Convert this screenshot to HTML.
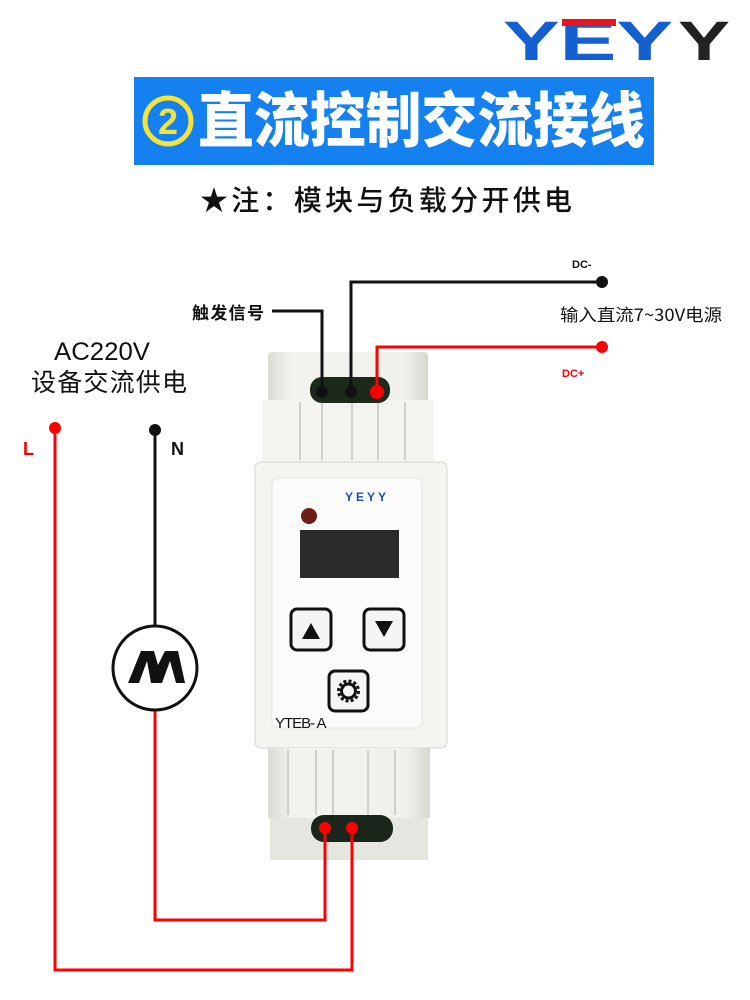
<!DOCTYPE html>
<html><head><meta charset="utf-8"><style>
html,body{margin:0;padding:0;background:#fff;}
body{width:750px;height:1000px;overflow:hidden;position:relative;font-family:"Liberation Sans","Noto Sans CJK SC",sans-serif;}
svg{position:absolute;left:0;top:0;}
</style></head><body>
<svg width="750" height="1000" viewBox="0 0 750 1000" xmlns="http://www.w3.org/2000/svg">
<defs>
<linearGradient id="body" x1="0" x2="1" y1="0" y2="0">
<stop offset="0" stop-color="#dcdcd6"/><stop offset="0.15" stop-color="#f2f2ee"/><stop offset="0.85" stop-color="#f0f0ec"/><stop offset="1" stop-color="#d8d8d2"/>
</linearGradient>
</defs>
<!-- logo -->
<g font-family="Liberation Sans, sans-serif" font-weight="bold" font-size="56">
<text x="503" y="60" fill="#1560d0" textLength="170" lengthAdjust="spacingAndGlyphs">YEY</text>
<text x="678" y="60" fill="#222" textLength="52" lengthAdjust="spacingAndGlyphs">Y</text>
</g>
<rect x="562" y="19" width="54" height="7" fill="#e8141e"/>
<!-- banner -->
<rect x="134" y="77" width="520" height="88" fill="#1580f0"/>
<circle cx="168" cy="121" r="23" fill="none" stroke="#f5e23a" stroke-width="5"/>
<text x="168" y="134" font-size="36" font-weight="bold" fill="#f5e23a" text-anchor="middle" font-family="Liberation Sans, sans-serif">2</text>
<text x="198" y="142" font-size="60" font-weight="900" fill="#fff" font-family="Noto Sans CJK SC, sans-serif" textLength="447" lengthAdjust="spacingAndGlyphs">直流控制交流接线</text>
<text x="200" y="210" font-size="28" fill="#111" font-weight="500" font-family="Noto Sans CJK SC, sans-serif" textLength="372" lengthAdjust="spacing">★注：模块与负载分开供电</text>

<!-- device -->
<rect x="268" y="352" width="160" height="110" rx="4" fill="url(#body)"/>
<rect x="262" y="400" width="172" height="62" fill="#f3f3ef"/>
<g stroke="#cfcfc8" stroke-width="2">
<line x1="300" y1="402" x2="300" y2="460"/><line x1="322" y1="402" x2="322" y2="460"/><line x1="352" y1="402" x2="352" y2="460"/><line x1="378" y1="402" x2="378" y2="460"/><line x1="405" y1="402" x2="405" y2="460"/>
</g>
<rect x="310" y="377" width="80" height="26" rx="12" fill="#1c2a1c"/>
<rect x="255" y="462" width="192" height="286" rx="6" fill="#f4f4f1" stroke="#d6d6d0"/>
<rect x="272" y="478" width="150" height="250" rx="6" fill="#fbfbfa" stroke="#e4e4e0"/>
<text x="345" y="501" font-size="12" font-weight="bold" fill="#1a4fb5" letter-spacing="3">YEYY</text>
<circle cx="309" cy="516" r="8" fill="#6b1f18"/>
<rect x="300" y="530" width="99" height="48" fill="#2a2a2a"/>
<rect x="291" y="609" width="40" height="41" rx="6" fill="#f5f5f5" stroke="#111" stroke-width="3"/>
<polygon points="302,639 320,639 311,623" fill="#111"/>
<rect x="364" y="609" width="40" height="41" rx="6" fill="#f5f5f5" stroke="#111" stroke-width="3"/>
<polygon points="375,621 393,621 384,637" fill="#111"/>
<rect x="329" y="671" width="39" height="40" rx="6" fill="#f5f5f5" stroke="#111" stroke-width="3"/>
<circle cx="348.5" cy="691" r="7" fill="none" stroke="#111" stroke-width="3"/>
<circle cx="348.5" cy="691" r="10" fill="none" stroke="#111" stroke-width="3" stroke-dasharray="3 2.2"/>
<text x="275" y="728" font-size="15" fill="#111" letter-spacing="-1">YTEB- A</text>
<rect x="268" y="748" width="162" height="70" fill="url(#body)"/>
<g stroke="#cfcfc8" stroke-width="2">
<line x1="288" y1="750" x2="288" y2="815"/><line x1="316" y1="750" x2="316" y2="815"/><line x1="333" y1="750" x2="333" y2="815"/><line x1="368" y1="750" x2="368" y2="815"/><line x1="395" y1="750" x2="395" y2="815"/>
</g>
<rect x="270" y="818" width="158" height="42" fill="#e6e6e1"/>
<rect x="311" y="815" width="82" height="27" rx="13" fill="#1a261a"/>

<!-- wires -->
<g fill="none" stroke-width="3">
<polyline points="322,392 322,311 272,311" stroke="#111"/>
<polyline points="351,392 351,282 602,282" stroke="#111"/>
<polyline points="377,392 377,347 602,347" stroke="#f00"/>
<polyline points="55,428 55,970 352,970 352,828" stroke="#f00"/>
<line x1="155" y1="430" x2="155" y2="626" stroke="#111"/>
<polyline points="155,710 155,920 325,920 325,828" stroke="#f00"/>
</g>
<circle cx="322" cy="392" r="6" fill="#111"/>
<circle cx="351" cy="392" r="6" fill="#111"/>
<circle cx="377" cy="392" r="7" fill="#f00"/>
<circle cx="602" cy="282" r="6" fill="#111"/>
<circle cx="602" cy="347" r="6" fill="#f00"/>
<circle cx="55" cy="428" r="6" fill="#f00"/>
<circle cx="155" cy="430" r="6" fill="#111"/>
<circle cx="325" cy="828" r="6" fill="#f00"/>
<circle cx="352" cy="828" r="6" fill="#f00"/>
<!-- motor -->
<circle cx="155" cy="668" r="42" fill="#fff" stroke="#111" stroke-width="3"/>
<polygon points="128,683 141,651 154,651 158,665 165,651 178,651 185,683 176,683 170,661 162,683 151,683 147,661 139,683" fill="#111"/>

<!-- labels -->
<text x="572" y="268" font-size="11" font-weight="bold" fill="#111">DC-</text>
<text x="560" y="321" font-size="17" fill="#111" font-family="Noto Sans CJK SC, sans-serif" textLength="162" lengthAdjust="spacingAndGlyphs">输入直流7~30V电源</text>
<text x="562" y="377" font-size="11" font-weight="bold" fill="#e00">DC+</text>
<text x="192" y="319" font-size="17" fill="#111" font-family="Noto Sans CJK SC, sans-serif" font-weight="bold" textLength="72">触发信号</text>
<text x="54" y="360" font-size="25" fill="#111" textLength="96" lengthAdjust="spacingAndGlyphs">AC220V</text>
<text x="31" y="391" font-size="25" fill="#111" font-family="Noto Sans CJK SC, sans-serif" textLength="156">设备交流供电</text>
<text x="23" y="455" font-size="18" font-weight="bold" fill="#e00">L</text>
<text x="171" y="455" font-size="18" font-weight="bold" fill="#111">N</text>
</svg>
</body></html>
